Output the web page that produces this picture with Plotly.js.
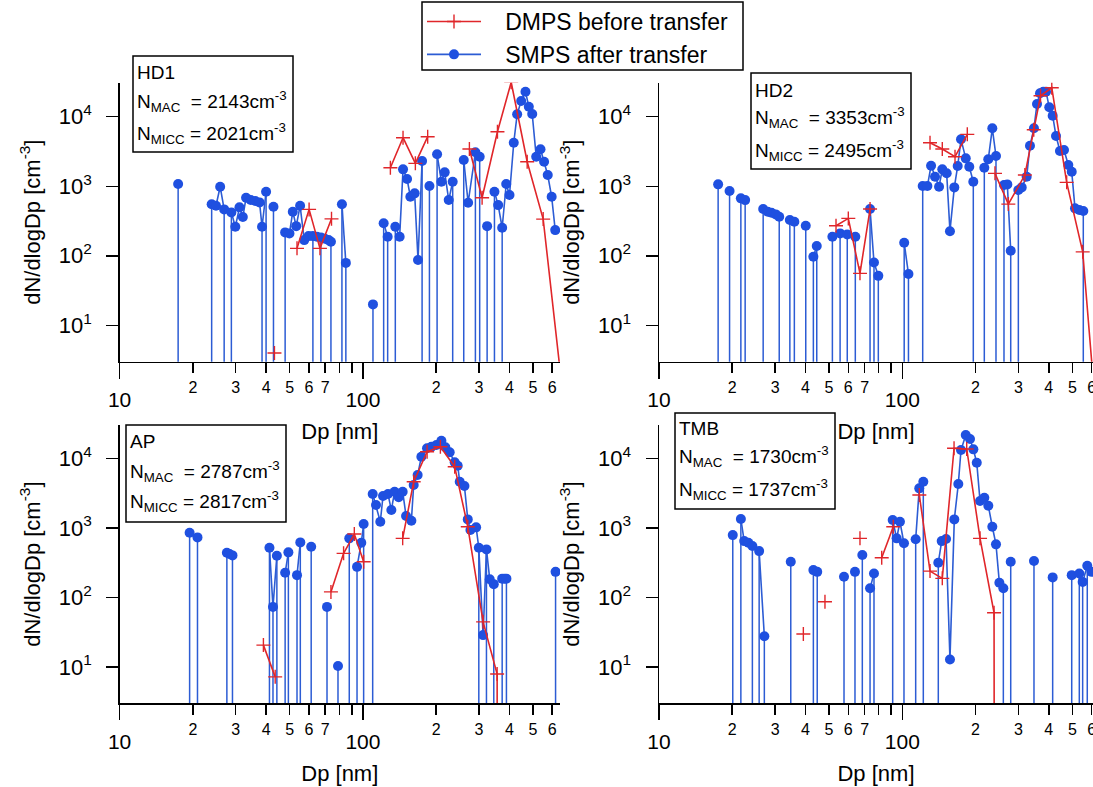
<!DOCTYPE html>
<html><head><meta charset="utf-8">
<script src="https://cdn.plot.ly/plotly-3.0.1.min.js"></script>
<style>html,body{margin:0;padding:0;background:#fff;} #chart{width:1093px;height:787px;}</style>
</head><body><div id="chart"></div>
<script>
// ---------------- DATA ----------------
// SMPS after transfer: diameter (nm), dN/dlogDp (cm^-3), stem flag (1 = drop to zero next to this point); null = gap
const hd1_smps_x = [17.4,null,23.9,24.9,25.9,26.9,null,28.8,29.9,31.1,32.1,33.1,34.6,36.1,37.6,38.5,40.0,null,42.9,null,47.9,49.9,51.5,53.2,55.2,57.4,59.8,62.3,64.7,67.2,69.8,72.3,73.9,null,82.0,85.1,null,110,null,121.7,126.4,null,135.9,141.6,146.2,151.9,156.7,163.2,168.5,175.1,null,187.7,null,201.8,210.2,216.9,225.3,233.9,null,259.7,270.7,290,302,null,324,null,347.3,359.7,373.6,388.2,400.5,416.9,430.5,447.2,465.8,480.8,496.5,515.6,537,555.5,575,596.8,617.3];
const hd1_smps_y = [1077,null,550,524,985,465,null,421,261,497,361,684,633,612,586,261,834,null,507,null,217,210,430,267,524,168,192,192,188,184,176,168,159,null,550,79,null,20,null,293,188,null,261,188,1750,1270,706,790,87,2306,null,1007,null,2877,1161,1585,633,1161,null,2384,579,3077,2657,null,267,null,834,536,253,1077,747,4227,10830,16830,22900,13920,10930,2657,3400,2254,1449,706,234];
const hd1_smps_stem = [1,0,1,0,0,1,0,1,0,0,0,0,0,0,0,1,1,0,1,0,1,0,0,0,0,0,0,1,0,1,0,0,1,0,1,1,0,1,0,1,1,0,1,0,0,0,0,0,0,1,0,1,0,1,0,0,0,1,0,1,0,1,1,0,1,0,1,0,1,0,0,0,0,0,0,0,0,0,0,0,0,0,0];
const hd1_dmps_x = [43.3,null,53.6,60.1,66.6,74.3,null,129.7,146.2,164.3,184.6,null,274,309,357.3,406.9,473.4,550.8,650];
const hd1_dmps_y = [4.0,null,128,465,128,340,null,1847,4989,2135,5157,null,3426,684,6080,31270,2254,337,1.9];

const hd2_smps_x = [17.5,null,19.5,null,21.7,22.6,null,26.8,28.0,29.0,30.2,31.2,null,34.5,36.0,null,40.1,null,43.1,44.5,null,51.6,55.5,59.4,64.1,null,73.7,76.5,79.7,null,101.8,106,null,121.3,126.8,131.3,136.3,141.6,146.0,152.2,157.0,163.6,168.9,174.3,182.3,188.5,195.8,null,217.3,225.6,234.4,242.7,null,261.8,270.2,279,null,299.9,309.6,324.4,334.8,347.6,357.8,368.1,379.7,389.7,401.9,415,428.4,444.6,461.9,481.3,497,512.7,534,554.5];
const hd2_smps_y = [1065,null,853,null,670,632,null,470,430,416,394,364,null,327,308,null,270,null,97,138,null,188,210,203,188,null,470,80,51.5,null,154,54.6,null,1007,1007,1971,1372,984,1750,1534,226,963,1954,4730,2518,1911,1161,null,1847,2440,6810,2722,null,1040,1064,118,null,881,963,1372,3830,6810,15240,21730,22900,22900,13650,10330,5270,3208,3318,2018,1618,481,455,440];
const hd2_smps_stem = [1,0,1,0,1,1,0,1,0,0,0,1,0,1,1,0,1,0,1,1,0,1,1,1,1,0,1,1,1,0,1,1,0,1,0,0,0,0,0,0,0,0,0,0,0,0,1,0,1,0,0,1,0,1,0,1,0,1,0,0,0,0,0,0,0,0,0,0,0,0,0,0,0,0,0,1];
const hd2_dmps_x = [53.4,60.0,67.0,73.7,null,130,146,164.7,185,null,240.4,272.8,319,347,370,411.5,473.8,551.4,620];
const hd2_dmps_y = [270,345,55.9,470,null,4227,3426,2657,5580,null,1534,554,1450,6500,20000,26100,1138,114,0.76];

const ap_smps_x = [19.4,20.9,null,27.6,28.3,29.1,null,41.3,42.7,44.3,null,47.9,49.4,null,53.6,55.3,null,61.3,null,71.2,null,79.0,null,87.9,null,94.6,98.5,100.7,null,109.7,113.2,117.9,121,126.8,130.9,135,140.3,145.7,150.5,158.2,161.7,167.9,173.9,183.5,191.2,200.5,210.2,218.3,227.4,238.4,245.3,250,261.4,269.8,276.7,292,299.5,311.9,322,332.2,345.1,null,373.6,381.9,389,null,619.3];
const ap_smps_y = [849,729,null,439,420,402,null,518,73,397,null,226,444,null,209,618,null,535,null,73,null,10.3,null,706,null,275,611,1135,null,3063,2128,1224,2870,3063,1803,3310,2748,3310,1479,1265,4130,5750,10540,13930,14700,15540,17900,14400,12190,8750,7830,4600,3990,1324,929,1016,518,28.7,490,182,155,null,186,186,186,null,233];
const ap_smps_stem = [1,1,0,1,0,1,0,1,1,1,0,1,1,0,1,1,0,1,0,1,0,1,0,1,0,1,0,1,0,1,0,0,0,0,0,0,0,0,0,0,0,0,0,0,0,0,0,0,0,0,0,0,0,0,0,0,1,0,1,0,1,0,1,0,1,0,1];
const ap_dmps_x = [39.0,43.6,null,73.9,83.3,92.2,100.7,null,145.7,161.7,183.6,208.2,238.4,269.8,311.9,356.2,357];
const ap_dmps_y = [20.6,7.2,null,120,430,814,325,null,706,4600,12450,14700,7570,1038,44.5,7.9,0.01];

const tmb_smps_x = [20.1,null,21.7,22.4,23.3,24.2,25.8,27.1,null,34.8,null,43.1,44.7,null,57.6,null,63.9,null,68.5,null,73.7,76.5,null,91.3,94.8,97.8,101.6,null,113.5,117.4,122,null,140.6,145.2,151.3,157,163.6,169.9,174.3,182.3,189.8,195.9,202.3,208.7,217.3,225.7,234.4,242.7,250.6,260.2,null,279,null,347.7,null,415,null,497,null,534,551.2,575.8,600];
const tmb_smps_y = [787,null,1340,645,611,547,463,27.7,null,325,null,247,233,null,198,null,233,null,406,null,135,221,null,1295,706,1224,599,null,684,3700,4600,null,315,645,690,12.8,1324,4270,13150,21630,18950,13450,8650,2433,2710,2080,1038,579,162,135,null,325,null,333,null,194,null,209,null,221,167,285,233];
const tmb_smps_stem = [1,0,1,0,0,1,1,1,0,1,0,1,1,0,1,0,1,0,1,0,1,1,0,1,0,0,1,0,1,0,1,0,1,0,0,0,0,0,0,0,0,0,0,0,0,0,0,0,0,1,0,1,0,1,0,1,0,1,0,1,1,1,0];
const tmb_dmps_x = [39.2,null,48.1,null,67.0,null,82.3,91.8,null,117.5,130,146,163.2,184,208.7,238.3,239];
const tmb_dmps_y = [29.7,null,86.5,null,706,null,372,1038,null,2965,239,188,13930,13610,706,60,0.01];

const panelNames = ['HD1','HD2','AP','TMB'];
const nMAC  = [2143, 3353, 2787, 1730];
const nMICC = [2021, 2495, 2817, 1737];

const xMinorTickVals = [20,30,40,50,60,70,80,90,200,300,400,500,600];
const xMinorTickText = ['2','3','4','5','6','7','','','2','3','4','5','6'];
const xMajorTickVals = [10,100];
const xMajorTickText = ['10','100'];
const yTickVals = [10,100,1000,10000];
const yTickText = ['10<sup>1</sup>','10<sup>2</sup>','10<sup>3</sup>','10<sup>4</sup>'];

const seriesNames = ['DMPS before transfer','SMPS after transfer'];

// ---------------- STYLE / LAYOUT ----------------
const W = 1093, H = 787;
const FONT = 'Liberation Sans, Arial, sans-serif';
const BLUE = '#1f50e0', BLUE_LINE = '#2c5cd4', RED = '#e0262a';
const STEM_FLOOR = 0.1;

const smps = [[hd1_smps_x,hd1_smps_y,hd1_smps_stem],[hd2_smps_x,hd2_smps_y,hd2_smps_stem],[ap_smps_x,ap_smps_y,ap_smps_stem],[tmb_smps_x,tmb_smps_y,tmb_smps_stem]];
const dmps = [[hd1_dmps_x,hd1_dmps_y],[hd2_dmps_x,hd2_dmps_y],[ap_dmps_x,ap_dmps_y],[tmb_dmps_x,tmb_dmps_y]];

const geo = [
  {l:119.6, r:560,  t:82.7, b:361.7, ymax:4.489},
  {l:659,   r:1093, t:82.7, b:361.7, ymax:4.489},
  {l:119.6, r:560,  t:425,  b:703.3, ymax:4.479},
  {l:659,   r:1093, t:425,  b:703.3, ymax:4.479}
];
const DEC = 243.3;
const boxes = [
  {x0:133, x1:293, y0:56,  y1:152, tx:135, ty:[72.3,101.7,133.3]},
  {x0:751, x1:911, y0:73,  y1:169, tx:753, ty:[90,117.7,150]},
  {x0:126, x1:286, y0:425, y1:522, tx:128, ty:[441.7,471.7,501.7]},
  {x0:675, x1:835, y0:413, y1:509, tx:677, ty:[428.3,456.7,489]}
];
const legendBox = {x0:422, x1:743, y0:2, y1:70};

const px = v => v / W, py = v => 1 - v / H;

const traces = [];
const layout = {
  width: W, height: H, margin:{l:0,r:0,t:0,b:0},
  paper_bgcolor:'#fff', plot_bgcolor:'rgba(0,0,0,0)',
  font:{family:FONT, color:'#000'},
  showlegend:true,
  legend:{x:px(422), y:1, xanchor:'left', yanchor:'top', bgcolor:'rgba(0,0,0,0)', borderwidth:0,
          font:{size:23, family:FONT}, itemwidth:54},
  shapes:[{type:'rect', xref:'paper', yref:'paper', x0:px(legendBox.x0), x1:px(legendBox.x1),
           y0:py(legendBox.y1), y1:py(legendBox.y0), line:{color:'#000', width:1.5},
           fillcolor:'rgba(0,0,0,0)', layer:'above'}],
  annotations:[]
};

for (let i = 0; i < 4; i++) {
  const n = i + 1;
  const xs = n === 1 ? 'x' : 'x' + n, ys = n === 1 ? 'y' : 'y' + n;
  const xo = 'x' + (n + 4);
  const g = geo[i];
  const xmax = 1 + (g.r - g.l) / DEC;
  const xrange = [1, xmax];

  const [sx, sy, sf] = smps[i];
  const stx = [], sty = [];
  for (let k = 0; k < sx.length; k++) {
    if (sf[k] && sy[k] != null) { stx.push(sx[k], sx[k], null); sty.push(STEM_FLOOR, sy[k], null); }
  }
  traces.push({type:'scatter', mode:'lines', x:stx, y:sty, xaxis:xs, yaxis:ys,
               line:{color:BLUE_LINE, width:1.5}, hoverinfo:'skip', showlegend:false});
  traces.push({type:'scatter', mode:'lines+markers', x:sx, y:sy, xaxis:xs, yaxis:ys,
               name:'&nbsp;&nbsp;&nbsp;' + seriesNames[1],
               line:{color:BLUE_LINE, width:1.6}, marker:{color:BLUE, size:10, symbol:'circle'},
               showlegend: i === 0, legendrank:2});
  const [dx, dy] = dmps[i];
  traces.push({type:'scatter', mode:'lines+markers', x:dx, y:dy, xaxis:xs, yaxis:ys,
               name:'&nbsp;&nbsp;&nbsp;' + seriesNames[0],
               line:{color:RED, width:1.6},
               marker:{symbol:'cross-thin', size:10, color:RED, line:{color:RED, width:1.4}},
               showlegend: i === 0, legendrank:1});
  traces.push({type:'scatter', mode:'markers', x:[10], y:[10], xaxis:xo, yaxis:ys,
               marker:{opacity:0}, hoverinfo:'skip', showlegend:false});

  const xk = n === 1 ? 'xaxis' : 'xaxis' + n, yk = n === 1 ? 'yaxis' : 'yaxis' + n;
  layout[xk] = {type:'log', domain:[px(g.l), px(g.r)], range:xrange, anchor:ys,
    tickmode:'array', tickvals:xMinorTickVals, ticktext:xMinorTickText,
    ticks:'outside', ticklen:10, tickwidth:1.5, tickcolor:'#000', ticklabeloverflow:'allow',
    showline:true, linecolor:'#000', linewidth:1.5, showgrid:false, zeroline:false,
    tickfont:{size:16, color:'#000'}, ticklabelstandoff:1, automargin:false, fixedrange:true,
    title:{text:'Dp [nm]', font:{size:22, color:'#000'}, standoff:28}};
  layout['xaxis' + (n + 4)] = {type:'log', overlaying:xs, anchor:ys, side:'bottom', range:xrange,
    tickmode:'array', tickvals:xMajorTickVals, ticktext:xMajorTickText,
    ticks:'outside', ticklen:16, tickwidth:1.5, tickcolor:'#000',
    showline:false, showgrid:false, zeroline:false, automargin:false, fixedrange:true,
    tickfont:{size:21, color:'#000'}, ticklabelstandoff:3};
  layout[yk] = {type:'log', domain:[py(g.b), py(g.t)], range:[Math.log10(3), g.ymax], anchor:xs,
    tickmode:'array', tickvals:yTickVals, ticktext:yTickText,
    ticks:'outside', ticklen:12, tickwidth:1.5, tickcolor:'#000',
    showline:true, linecolor:'#000', linewidth:1.5, showgrid:false, zeroline:false,
    tickfont:{size:22, color:'#000'}, ticklabelstandoff:10, automargin:false, fixedrange:true,
    title:{text:'dN/dlogDp [cm<sup>-3</sup>]', font:{size:22, color:'#000'}, standoff:12}};

  const b = boxes[i];
  layout.shapes.push({type:'rect', xref:'paper', yref:'paper', x0:px(b.x0), x1:px(b.x1), y0:py(b.y1), y1:py(b.y0),
    line:{color:'#000', width:1.5}, fillcolor:'rgba(0,0,0,0)', layer:'above'});
  const lines = [panelNames[i],
    'N<sub>MAC</sub>&nbsp;&nbsp;= ' + nMAC[i] + 'cm<sup>-3</sup>',
    'N<sub>MICC</sub> = ' + nMICC[i] + 'cm<sup>-3</sup>'];
  lines.forEach((t, k) => layout.annotations.push({xref:'paper', yref:'paper', x:px(b.tx), y:py(b.ty[k]),
    xanchor:'left', yanchor:'middle', text:t, showarrow:false, font:{size:19, color:'#000', family:FONT}}));
}

Plotly.newPlot('chart', traces, layout, {staticPlot:true});
</script></body></html>
